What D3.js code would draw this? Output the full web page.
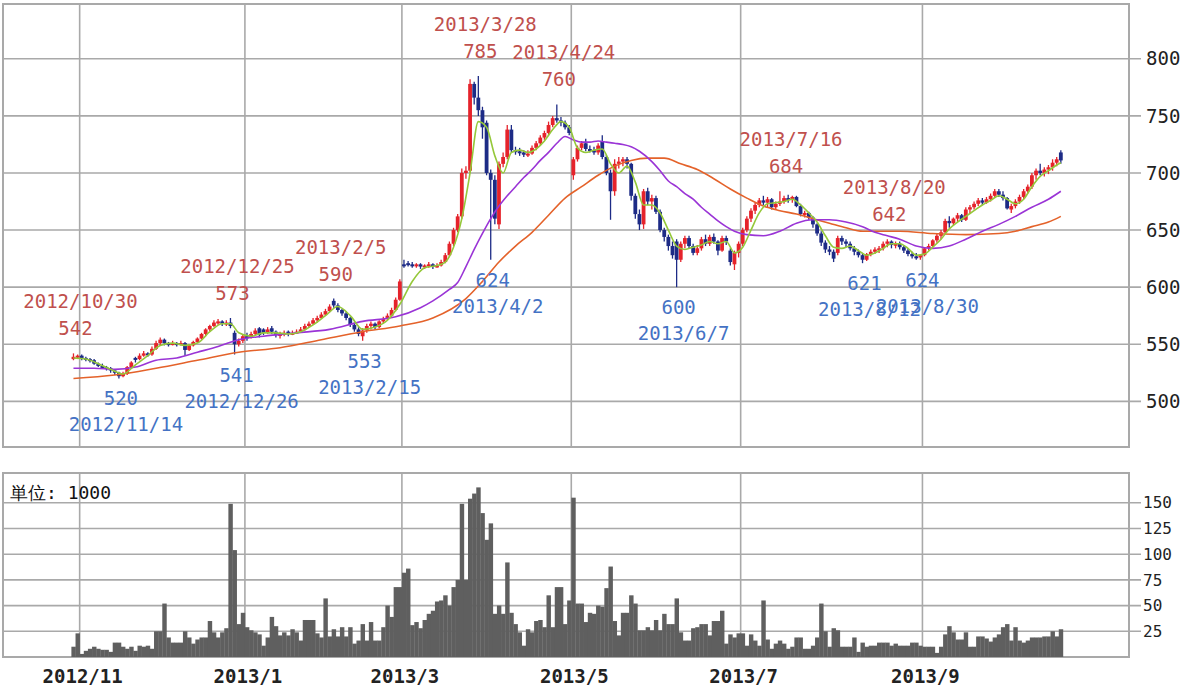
<!DOCTYPE html>
<html>
<head>
<meta charset="utf-8">
<script src="https://cdn.jsdelivr.net/npm/d3@7"></script>
<style>
  body { margin: 0; background: #fff; }
  svg { display: block; }
  text { font-family: "DejaVu Sans Mono", monospace; }
</style>
</head>
<body>
<svg id="chart" width="1200" height="687"></svg>
<script>
// trading calendar: weekdays from the first bar, minus exchange holidays
const firstDay = "2012-10-30";
const barCount = 240;
const holidays = ["2012-11-23", "2012-12-24", "2012-12-31", "2013-01-01", "2013-01-02", "2013-01-03",
    "2013-01-14", "2013-02-11", "2013-03-20", "2013-04-29", "2013-05-03", "2013-05-06",
    "2013-07-15", "2013-09-16", "2013-09-23", "2013-10-14"];

const monthTicks = ["2012/11", "2013/1", "2013/3", "2013/5", "2013/7", "2013/9"];
const priceTicks = [500, 550, 600, 650, 700, 750, 800];
const volumeTicks = [25, 50, 75, 100, 125, 150];

const opens = [
    537,539,540,538,537,536,533,531,530,529, 527,525,522,524,530,538,537,540,542,541,
    546,551,554,551,550,551,550,551,545,549, 552,555,559,563,566,569,570,568,569,560,
    550,553,557,556,559,564,563,560,564,561, 558,559,561,559,560,561,563,566,568,571,
    573,576,579,588,584,580,577,573,567,563, 557,562,566,568,565,570,572,575,580,589,
    620,621,620,619,620,618,619,620,618,619, 622,628,638,650,662,700,702,778,766,755,
    744,700,694,655,708,714,738,720,719,718, 716,717,722,726,731,735,742,748,746,744,
    740,698,712,722,726,721,720,718,728,714, 700,684,708,710,712,708,680,664,655,684,
    675,678,666,650,644,636,640,624,638,643, 636,630,634,642,638,644,640,632,643,632,
    620,630,638,650,660,667,672,676,674,677, 670,673,675,678,677,679,671,664,665,661,
    655,647,639,633,631,630,643,640,638,634, 631,628,624,629,631,633,634,638,640,637,
    638,635,632,629,627,626,628,634,636,641, 645,648,658,656,660,663,659,668,670,673,
    676,674,677,680,684,681,678,668,671,675, 679,684,688,698,702,700,703,705,709,718];
const highs = [
    542,541,541,539,538,537,534,533,531,530, 528,526,526,531,535,539,542,544,543,548,
    553,556,555,552,553,552,553,552,550,553, 556,560,564,567,571,572,571,571,573,562,
    555,558,560,561,564,565,564,565,566,562, 561,562,562,562,563,565,568,570,573,575,
    578,581,585,590,586,581,579,574,569,565, 564,568,570,569,571,574,577,582,591,607,
    624,623,622,621,621,620,622,621,621,624, 630,640,652,664,704,706,782,780,785,758,
    746,703,698,710,718,742,742,723,722,720, 720,724,728,733,737,745,750,760,749,746,
    742,714,724,728,730,724,723,726,733,716, 703,712,714,714,714,709,682,668,686,687,
    681,680,668,652,646,640,642,640,645,645, 638,637,644,646,646,647,641,645,645,634,
    632,640,652,662,669,674,678,680,679,678, 675,684,680,681,680,680,673,667,666,662,
    656,649,641,636,633,645,645,642,640,636, 633,630,630,633,635,636,640,642,641,640,
    640,637,634,631,630,629,635,638,642,647, 650,660,662,661,665,664,670,672,675,678,
    678,679,682,686,686,684,679,673,677,681, 686,690,700,704,708,705,707,712,714,720];
const lows = [
    536,537,536,535,534,532,530,529,527,525, 523,520,521,523,529,534,536,539,539,540,
    545,549,549,548,549,548,549,540,544,548, 551,554,557,561,565,567,566,566,564,541,
    548,551,553,555,558,556,558,559,559,556, 555,557,557,558,559,560,562,565,567,569,
    572,575,578,582,578,575,571,565,561,557, 553,560,563,563,564,568,571,574,579,588,
    617,618,617,617,616,616,617,616,617,618, 621,627,636,648,660,695,700,760,750,730,
    698,624,655,651,705,712,718,716,715,714, 714,716,720,724,729,733,740,744,741,738,
    733,694,710,720,719,718,716,716,712,698, 659,680,704,706,704,676,660,650,651,672,
    668,664,648,640,632,625,600,622,634,634, 628,628,632,636,636,638,628,631,637,619,
    615,626,636,648,657,664,670,672,670,668, 668,671,673,674,674,670,662,661,659,652,
    645,636,630,628,622,628,637,635,632,628, 626,621,623,627,629,630,632,635,634,634,
    633,630,627,625,624,624,627,632,635,639, 642,647,652,654,657,657,658,665,668,671,
    672,673,675,679,679,676,668,665,669,673, 677,682,686,694,698,697,699,702,706,708];
const closes = [
    539,540,538,537,536,533,531,530,529,527, 525,522,524,530,534,537,540,542,541,546,
    551,554,551,550,551,550,551,545,549,552, 555,559,563,566,569,570,568,569,566,550,
    553,557,556,559,562,558,560,563,561,558, 559,560,559,560,561,563,566,568,571,573,
    576,579,583,584,580,577,573,567,563,559, 562,566,568,565,570,572,575,580,589,605,
    619,620,619,620,618,619,620,618,619,622, 628,638,650,662,700,702,778,766,755,740,
    700,694,660,708,714,738,720,719,718,716, 717,722,726,731,735,742,748,746,744,740,
    735,712,722,726,721,720,718,724,714,700, 684,708,710,712,708,680,664,655,684,675,
    678,666,650,644,636,628,624,638,643,636, 630,634,642,638,644,640,632,643,640,622,
    630,638,650,660,667,672,676,674,677,670, 673,675,678,677,679,671,664,665,661,655,
    647,639,633,631,625,643,640,638,634,631, 628,624,629,631,633,634,638,640,637,638,
    635,632,629,627,626,628,634,636,641,645, 648,658,656,660,663,659,668,670,673,676,
    674,677,680,684,681,678,669,671,675,679, 684,688,698,702,700,703,705,709,712,711];
const volumes = [
    10,23,3,6,8,10,8,7,7,5, 14,14,10,8,10,6,11,10,11,8,
    25,25,52,19,14,14,14,25,19,13, 17,19,19,35,24,19,24,28,149,104,
    32,43,29,26,24,22,11,19,39,30, 21,24,21,27,24,16,36,36,36,23,
    19,57,20,27,20,29,20,29,13,16, 32,16,34,16,16,29,50,39,68,68,
    82,86,31,34,28,36,42,45,54,55, 60,50,68,75,149,75,154,159,165,140,
    114,130,42,50,42,92,43,32,24,11, 27,24,35,36,29,60,29,68,68,32,
    55,155,52,52,34,43,42,50,49,67, 88,35,21,43,43,60,52,26,26,29,
    26,36,26,42,32,32,57,24,16,16, 28,29,32,32,21,35,35,45,13,22,
    19,23,23,11,22,16,11,55,17,8, 13,16,13,8,10,19,19,8,8,11,
    19,52,25,10,28,26,10,10,10,19, 5,14,10,11,11,14,14,14,11,13,
    11,11,11,14,14,11,10,10,10,4, 10,22,30,24,17,17,24,10,10,20,
    20,18,15,19,22,29,32,16,29,16, 14,16,19,19,19,20,20,25,20,27];

// moving averages: [bar index, value]
const maShort = [[0,538],[3,537],[6,533],[9,528],[12,524],[15,532],[18,540],[21,549],[24,551],[27,549],
    [30,551],[33,561],[36,568],[38,568],[40,560],[43,557],[46,560],[49,560],[52,559],[55,561],
    [58,567],[61,575],[64,583],[67,575],[70,563],[73,565],[76,571],[79,585],[82,605],[85,617],
    [88,619],[90,622],[92,635],[94,660],[96,700],[98,745],[100,740],[102,715],[104,700],[106,718],
    [108,720],[110,718],[112,721],[114,728],[116,738],[118,745],[120,740],[122,722],[124,718],[126,720],
    [128,721],[130,708],[132,700],[134,706],[136,692],[138,672],[140,672],[142,665],[144,650],[146,636],
    [148,633],[150,635],[152,637],[154,640],[156,638],[158,640],[160,630],[162,635],[164,650],[166,665],
    [168,673],[170,674],[172,675],[174,677],[176,672],[178,665],[180,657],[182,645],[184,635],[186,634],
    [188,636],[190,632],[192,628],[194,630],[196,634],[198,638],[200,638],[202,634],[204,628],[206,629],
    [208,635],[210,642],[212,651],[214,657],[216,662],[218,667],[220,672],[222,676],[224,680],[226,677],
    [228,673],[230,677],[232,688],[234,697],[236,702],[238,707],[239,709]];
const maMid = [[0,529],[5,529],[10,528],[15,530],[20,536],[25,538],[30,543],[35,548],[40,554],[46,557],
    [54,560],[62,563],[70,570],[78,574],[84,582],[87,588],[91,598],[93,604],[95,618],[97,633],
    [99,647],[101,660],[103,671],[105,680],[107,688],[109,696],[111,703],[113,711],[115,718],[117,726],
    [119,732],[121,729],[123,727],[125,727],[127,728],[129,727],[131,726],[133,725],[135,723],[137,719],
    [140,710],[142,702],[144,693],[146,688],[148,682],[150,677],[152,670],[154,664],[156,658],[158,653],
    [160,649],[163,646],[167,645],[171,649],[175,656],[179,659],[183,659],[187,657],[191,653],[194,648],
    [197,645],[200,642],[204,636],[208,634],[212,636],[216,642],[220,649],[224,655],[228,662],[232,670],
    [236,677],[239,684]];
const maLong = [[0,520],[10,523],[20,529],[30,536],[40,543],[50,547],[60,554],[70,561],[79,566],[87,573],
    [95,590],[99,605],[103,622],[107,636],[111,648],[115,663],[119,678],[123,688],[127,698],[131,706],
    [135,711],[139,713],[143,713],[147,708],[151,703],[155,695],[159,686],[163,678],[167,671],[171,667],
    [175,664],[179,660],[183,656],[187,652],[191,649],[196,649],[200,649],[208,647],[216,646],[224,647],
    [228,649],[232,653],[236,657],[239,662]];

const highMarks = [["2012/10/30", 542], ["2012/12/25", 573], ["2013/2/5", 590], ["2013/3/28", 785],
    ["2013/4/24", 760], ["2013/7/16", 684], ["2013/8/20", 642]];
const lowMarks = [["2012/11/14", 520], ["2012/12/26", 541], ["2013/2/15", 553], ["2013/4/2", 624],
    ["2013/6/7", 600], ["2013/8/12", 621], ["2013/8/30", 624]];

const UP_COLOR = "#e5232b";
const DOWN_COLOR = "#1d2b86";
const GRID = "#a9a9a9";

// build the list of trading days
const fmt = d3.timeFormat("%Y-%m-%d");
const days = [];
for (let d = new Date(firstDay + "T00:00:00"); days.length < barCount; d = d3.timeDay.offset(d, 1)) {
    const wd = d.getDay();
    if (wd === 0 || wd === 6 || holidays.includes(fmt(d))) continue;
    days.push(new Date(d));
}
const dayIndex = (str) => {
    const [y, m, dd] = str.split("/").map(Number);
    return days.findIndex(d => d.getFullYear() === y && d.getMonth() === m - 1 && d.getDate() === dd);
};
const monthStart = (str) => {
    const [y, m] = str.split("/").map(Number);
    return days.findIndex(d => d.getFullYear() === y && d.getMonth() === m - 1);
};

const svg = d3.select("#chart");

const x = d3.scaleBand().domain(d3.range(barCount)).range([71.4, 1062.9]);
const cx = (i) => x(i) + x.bandwidth() / 2;

const main = { left: 3, right: 1129, top: 4, bottom: 447 };
const vol = { left: 3, right: 1129, top: 473, bottom: 657 };

const y = d3.scaleLinear().domain([460, 848]).range([main.bottom, main.top]);
const yv = d3.scaleLinear().domain([0, 179]).range([vol.bottom, vol.top]);

// grids
function drawGrid(box, scale, ticks, fontSize, labelX) {
    const g = svg.append("g");
    g.selectAll("line.h").data(ticks).enter().append("line")
        .attr("x1", box.left).attr("x2", box.right + 12)
        .attr("y1", d => scale(d)).attr("y2", d => scale(d))
        .attr("stroke", GRID).attr("stroke-width", 1.6);
    g.selectAll("line.v").data(monthTicks).enter().append("line")
        .attr("x1", d => x(monthStart(d))).attr("x2", d => x(monthStart(d)))
        .attr("y1", box.top).attr("y2", box.bottom)
        .attr("stroke", GRID).attr("stroke-width", 1.6);
    g.append("rect")
        .attr("x", box.left).attr("y", box.top)
        .attr("width", box.right - box.left).attr("height", box.bottom - box.top)
        .attr("fill", "none").attr("stroke", GRID).attr("stroke-width", 2);
    g.selectAll("text").data(ticks).enter().append("text")
        .attr("x", labelX).attr("y", d => scale(d))
        .attr("dy", "0.35em")
        .attr("font-size", fontSize)
        .attr("fill", "#222")
        .text(d => d);
}
drawGrid(main, y, priceTicks, 19, 1146);
drawGrid(vol, yv, volumeTicks, 16, 1143);

// volume bars
svg.append("g").selectAll("rect").data(volumes).enter().append("rect")
    .attr("x", (d, i) => x(i))
    .attr("width", x.bandwidth() + 0.3)
    .attr("y", d => yv(d))
    .attr("height", d => yv(0) - yv(d))
    .attr("fill", "#5f5f5f");

// candles
const candles = svg.append("g").selectAll("g").data(d3.range(barCount)).enter().append("g")
    .attr("stroke", i => closes[i] >= opens[i] ? UP_COLOR : DOWN_COLOR)
    .attr("fill", i => closes[i] >= opens[i] ? UP_COLOR : DOWN_COLOR);
candles.append("line")
    .attr("x1", cx).attr("x2", cx)
    .attr("y1", i => y(highs[i])).attr("y2", i => y(lows[i]))
    .attr("stroke-width", 1.3);
candles.append("rect")
    .attr("x", i => cx(i) - 1.9)
    .attr("width", 3.8)
    .attr("y", i => y(Math.max(opens[i], closes[i])))
    .attr("height", i => Math.max(2, Math.abs(y(opens[i]) - y(closes[i]))))
    .attr("stroke", "none");

// moving averages
const maLine = d3.line().x(d => cx(d[0])).y(d => y(d[1])).curve(d3.curveMonotoneX);
[[maLong, "#e4622a"], [maMid, "#9a34d6"], [maShort, "#95c83a"]].forEach(([data, color]) => {
    svg.append("path")
        .attr("d", maLine(data))
        .attr("fill", "none")
        .attr("stroke", color)
        .attr("stroke-width", 1.6);
});

// high / low annotations
const labels = svg.append("g").attr("font-size", 19).attr("text-anchor", "middle");
highMarks.forEach(([date, value]) => {
    const px = cx(dayIndex(date));
    const base = y(value) - 18;
    labels.append("text").attr("x", px + 2).attr("y", base).attr("fill", "#c0504d").text(value);
    labels.append("text").attr("x", px + 7).attr("y", base - 27).attr("fill", "#c0504d").text(date);
});
lowMarks.forEach(([date, value]) => {
    const px = cx(dayIndex(date));
    const base = y(value) + 27;
    labels.append("text").attr("x", px + 2).attr("y", base).attr("fill", "#4472c4").text(value);
    labels.append("text").attr("x", px + 7).attr("y", base + 26).attr("fill", "#4472c4").text(date);
});

// month labels under the volume panel
svg.append("g").selectAll("text").data(monthTicks).enter().append("text")
    .attr("x", d => x(monthStart(d)) + 3)
    .attr("y", 683)
    .attr("text-anchor", "middle")
    .attr("font-size", 19)
    .attr("font-weight", "bold")
    .attr("fill", "#222")
    .text(d => d);

svg.append("text")
    .attr("x", 10).attr("y", 499)
    .attr("font-family", "'Noto Sans CJK JP', sans-serif")
    .attr("font-size", 18)
    .attr("fill", "#111")
    .text("単位: 1000");
</script>
</body>
</html>
